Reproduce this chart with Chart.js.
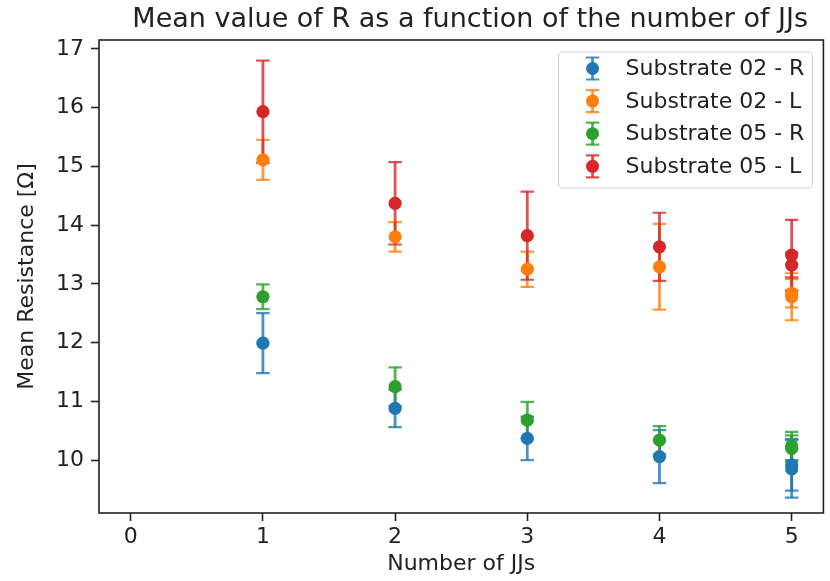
<!DOCTYPE html>
<html>
<head>
<meta charset="utf-8">
<script src="https://cdn.jsdelivr.net/npm/chart.js@4.4.0/dist/chart.umd.min.js"></script>
<style>
  html, body { margin: 0; padding: 0; background: #fff; }
  #wrap { width: 830px; height: 581px; }
</style>
</head>
<body>
<div id="wrap"><canvas id="chart" width="830" height="581"></canvas></div>
<script>
// -- data ----------------------------------------------------------------

const jjs = [1, 2, 3, 4, 5, 5];

const s02R    = [11.99, 10.88, 10.37, 10.06, 9.92, 9.85];
const s02RErr = [0.51, 0.32, 0.37, 0.45, 0.44, 0.49];

const s02L    = [15.11, 13.80, 13.25, 13.29, 12.84, 12.78];
const s02LErr = [0.34, 0.25, 0.30, 0.73, 0.24, 0.40];

const s05R    = [12.78, 11.25, 10.68, 10.34, 10.24, 10.20];
const s05RErr = [0.21, 0.33, 0.31, 0.24, 0.24, 0.22];

const s05L    = [15.93, 14.37, 13.82, 13.63, 13.49, 13.32];
const s05LErr = [0.87, 0.70, 0.75, 0.58, 0.60, 0.21];

const xTicks = [0, 1, 2, 3, 4, 5];
const yTicks = [10, 11, 12, 13, 14, 15, 16, 17];

const TITLE = 'Mean value of R as a function of the number of JJs';

const SERIES = [
  { label: 'Substrate 02 - R', mean: s02R, err: s02RErr, color: '#1f77b4' },
  { label: 'Substrate 02 - L', mean: s02L, err: s02LErr, color: '#ff7f0e' },
  { label: 'Substrate 05 - R', mean: s05R, err: s05RErr, color: '#2ca02c' },
  { label: 'Substrate 05 - L', mean: s05L, err: s05LErr, color: '#d62728' },
];

const FONT = "'DejaVu Sans', sans-serif";
const INK = '#222';
const CAP = 6.75;

// -- error bars: all bars under all markers (matplotlib zorder) -----------

function drawErrBar(ctx, x, yTop, yBot, color) {
  ctx.strokeStyle = color;
  ctx.lineWidth = 2.8;
  ctx.beginPath();
  ctx.moveTo(x, yTop);
  ctx.lineTo(x, yBot);
  ctx.stroke();
  ctx.lineWidth = 2.2;
  ctx.beginPath();
  ctx.moveTo(x - CAP, yTop); ctx.lineTo(x + CAP, yTop);
  ctx.moveTo(x - CAP, yBot); ctx.lineTo(x + CAP, yBot);
  ctx.stroke();
}

const errorBars = {
  id: 'errorBars',
  beforeDatasetsDraw(chart) {
    const { ctx, chartArea: a, scales: { x, y } } = chart;
    ctx.save();
    ctx.beginPath();
    ctx.rect(a.left, a.top, a.right - a.left, a.bottom - a.top);
    ctx.clip();
    ctx.globalAlpha = 0.8;
    SERIES.forEach(function(s) {
      jjs.forEach(function(j, i) {
        drawErrBar(ctx,
          x.getPixelForValue(j),
          y.getPixelForValue(s.mean[i] + s.err[i]),
          y.getPixelForValue(s.mean[i] - s.err[i]),
          s.color);
      });
    });
    ctx.restore();
  },
};

// -- title, frame + legend box (matplotlib style) -----------------------

const frameAndLegend = {
  id: 'frameAndLegend',
  afterDatasetsDraw(chart) {
    const { ctx, chartArea: a } = chart;
    ctx.save();
    ctx.strokeStyle = INK;
    ctx.lineWidth = 1.6;
    ctx.strokeRect(a.left, a.top, a.right - a.left, a.bottom - a.top);

    // title, centred over the axes
    ctx.font = '27px ' + FONT;
    ctx.fillStyle = INK;
    ctx.textAlign = 'center';
    ctx.textBaseline = 'alphabetic';
    ctx.fillText(TITLE, (a.left + a.right) / 2 + 9, a.top - 13);

    // legend
    ctx.font = '22px ' + FONT;
    const textW = Math.max.apply(null, SERIES.map(s => ctx.measureText(s.label).width));
    const textOff = 67, rowH = 32.6;
    const w = textOff + textW + 8;
    const h = 136;
    const right = a.right - 11;
    const left = right - w;
    const top = a.top + 12;

    ctx.beginPath();
    ctx.roundRect(left, top, w, h, 4);
    ctx.fillStyle = 'rgba(255,255,255,0.8)';
    ctx.fill();
    ctx.strokeStyle = '#d6d6d6';
    ctx.lineWidth = 1.2;
    ctx.stroke();

    SERIES.forEach(function(s, i) {
      const cy = top + 16.5 + i * rowH;
      const cx = left + 34;
      ctx.globalAlpha = 0.8;
      drawErrBar(ctx, cx, cy - 11, cy + 11, s.color);
      ctx.globalAlpha = 1;
      ctx.fillStyle = s.color;
      ctx.beginPath();
      ctx.arc(cx, cy, 6.5, 0, Math.PI * 2);
      ctx.fill();
      ctx.fillStyle = INK;
      ctx.textBaseline = 'middle';
      ctx.textAlign = 'left';
      ctx.fillText(s.label, left + textOff, cy + 1);
    });
    ctx.restore();
  },
};

// -- chart --------------------------------------------------------------

const datasets = SERIES.map(function(s, i) {
  return {
    label: s.label,
    data: jjs.map((j, k) => ({ x: j, y: s.mean[k] })),
    backgroundColor: s.color,
    borderWidth: 0,
    pointRadius: 6.6,
    pointHoverRadius: 6.6,
    order: SERIES.length - i,   // red on top
  };
});

const tickFont = { family: FONT, size: 22 };

new Chart(document.getElementById('chart'), {
  type: 'scatter',
  data: { datasets },
  options: {
    responsive: false,
    animation: false,
    events: [],
    layout: { padding: { left: 0, right: 2, top: 40, bottom: 0 } },
    plugins: {
      legend: { display: false },
      tooltip: { enabled: false },
      title: { display: false },
    },
    scales: {
      x: {
        type: 'linear',
        min: -0.24,
        max: 5.24,
        afterBuildTicks: s => { s.ticks = xTicks.map(v => ({ value: v })); },
        afterFit: s => { s.height = 68; },
        grid: { drawOnChartArea: false, drawTicks: true, tickLength: 8, tickWidth: 1.6, tickColor: INK },
        border: { display: false },
        ticks: { font: tickFont, color: INK, padding: 3, maxRotation: 0 },
        title: {
          display: true, text: 'Number of JJs', color: INK,
          font: { family: FONT, size: 22 }, padding: { top: 0, bottom: 4 },
        },
      },
      y: {
        type: 'linear',
        min: 9.1,
        max: 17.15,
        afterBuildTicks: s => { s.ticks = yTicks.map(v => ({ value: v })); },
        afterFit: s => { s.width = 99; },
        grid: { drawOnChartArea: false, drawTicks: true, tickLength: 8, tickWidth: 1.6, tickColor: INK },
        border: { display: false },
        ticks: { font: tickFont, color: INK, padding: 7 },
        title: {
          display: true, text: 'Mean Resistance [Ω]', color: INK,
          font: { family: FONT, size: 22 }, padding: { top: 14, bottom: 0 },
        },
      },
    },
  },
  plugins: [errorBars, frameAndLegend],
});
</script>
</body>
</html>
